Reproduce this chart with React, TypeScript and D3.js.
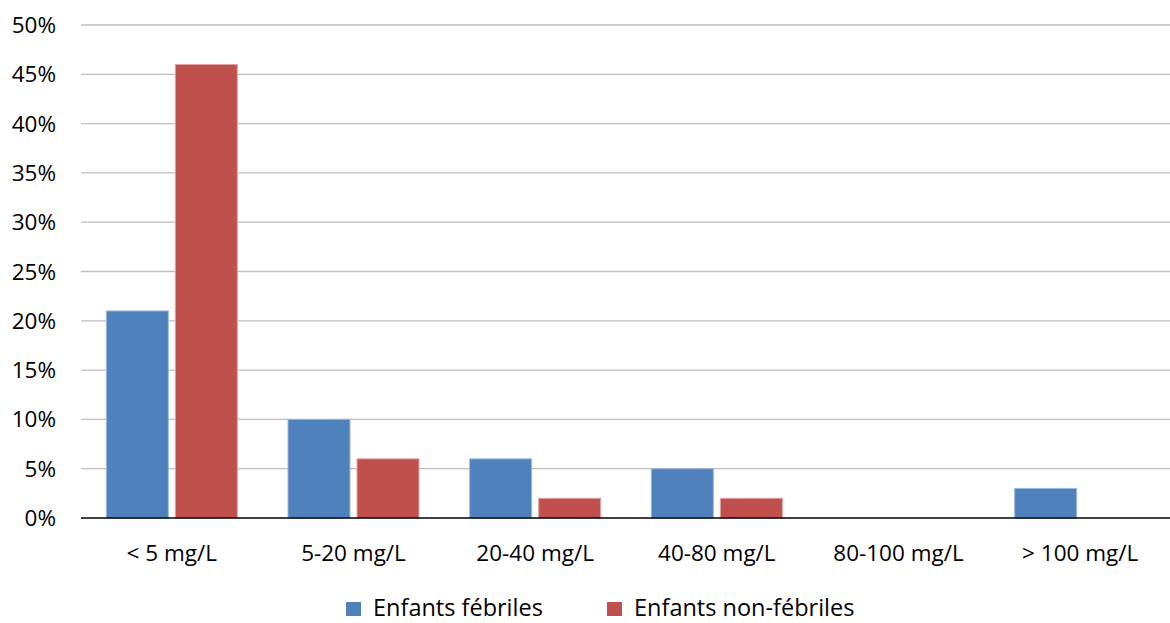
import React from "react";
import * as d3 from "d3";

const categories = ["< 5 mg/L", "5-20 mg/L", "20-40 mg/L", "40-80 mg/L", "80-100 mg/L", "> 100 mg/L"];
const seriesNames = ["Enfants fébriles", "Enfants non-fébriles"];
const febriles = [21, 10, 6, 5, 0, 3];
const nonFebriles = [46, 6, 2, 2, 0, 0];
const yTicks = [0, 5, 10, 15, 20, 25, 30, 35, 40, 45, 50];
const colors = ["#4F81BD", "#C0504D"];
const borders = ["#9DB8DD", "#E0A5A3"];

const W = 1170, H = 623;
const left = 81, right = 1171, top = 25, bottom = 518;
const FONT = "'Open Sans', sans-serif";
const FS = 22.5;
const LFS = 23.5;

export default function App() {
  const x = d3.scaleBand<string>().domain(categories).range([left, right]).paddingInner(0).paddingOuter(0);
  const y = d3.scaleLinear().domain([0, 50]).range([bottom, top]);
  const barW = 62, gap = 7;
  const series = [febriles, nonFebriles];
  return (
    <svg width={W} height={H} style={{ position: "absolute", left: 0, top: 0, background: "#fff" }} fontFamily={FONT}>
      {yTicks.map((t) => (
        <g key={t}>
          {t > 0 && <line x1={left} x2={right} y1={y(t)} y2={y(t)} stroke="#BEBEBE" strokeWidth={1.3} />}
          <text x={56} y={y(t) + 8} textAnchor="end" fontSize={FS} fill="#000">{t}%</text>
        </g>
      ))}
      {categories.map((c, i) => {
        const cx = (x(c) as number) + x.bandwidth() / 2;
        return (
          <g key={c}>
            {series.map((s, k) => {
              const bx = k === 0 ? cx - gap / 2 - barW : cx + gap / 2;
              const h = bottom - y(s[i]);
              if (s[i] <= 0) return null;
              return <rect key={k} x={bx} y={y(s[i])} width={barW} height={h} fill={colors[k]} stroke={borders[k]} strokeWidth={1} />;
            })}
            <text x={cx} y={561} textAnchor="middle" fontSize={FS} fill="#000">{c}</text>
          </g>
        );
      })}
      <line x1={left} x2={right} y1={bottom} y2={bottom} stroke="#000" strokeWidth={1.5} />
      {seriesNames.map((n, k) => {
        const lx = k === 0 ? 346 : 607;
        return (
          <g key={n}>
            <rect x={lx} y={602} width={15} height={14} fill={colors[k]} />
            <text x={lx + 27} y={616} fontSize={LFS} fill="#000">{n}</text>
          </g>
        );
      })}
    </svg>
  );
}
